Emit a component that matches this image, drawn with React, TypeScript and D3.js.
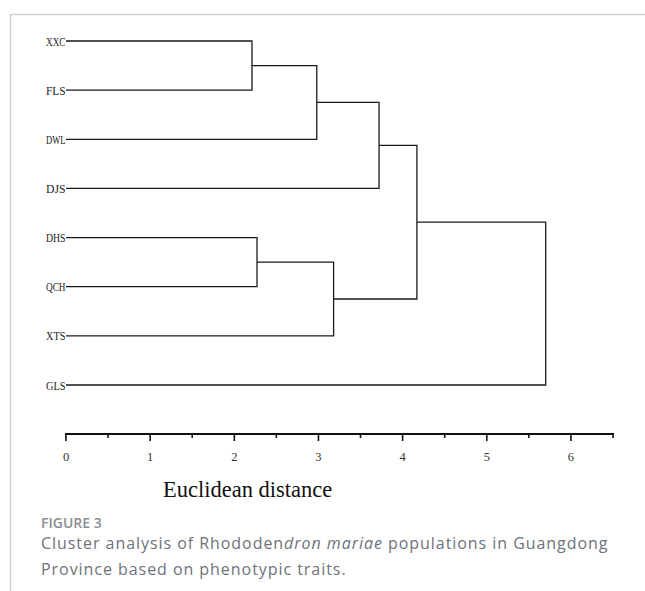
import React, { useEffect, useRef } from "react";
import * as d3 from "d3";

const leaves = ["XXC", "FLS", "DWL", "DJS", "DHS", "QCH", "XTS", "GLS"];
// each merge joins two items (leaf names or "c<index>" for earlier merges) at a distance
const mergeA = ["XXC", "c0", "c1", "DHS", "c3", "c2", "c5"];
const mergeB = ["FLS", "DWL", "DJS", "QCH", "XTS", "c4", "GLS"];
const mergeHeight = [2.21, 2.98, 3.72, 2.27, 3.18, 4.17, 5.7];
const majorTicks = [0, 1, 2, 3, 4, 5, 6];
const minorTicks = [0.5, 1.5, 2.5, 3.5, 4.5, 5.5, 6.5];
const axisTitle = "Euclidean distance";
const figLabel = "FIGURE 3";

export default function App() {
  const ref = useRef<SVGSVGElement>(null);
  useEffect(() => {
    const svg = d3.select(ref.current);
    svg.selectAll("*").remove();
    const W = 645, H = 591;
    // frame
    svg.append("line").attr("x1", 10.5).attr("x2", 10.5).attr("y1", 14).attr("y2", H).attr("stroke", "#cfcfcf").attr("stroke-width", 1.5);
    svg.append("line").attr("x1", 10).attr("x2", W).attr("y1", 14.5).attr("y2", 14.5).attr("stroke", "#cfcfcf").attr("stroke-width", 1.5);

    const x = d3.scaleLinear().domain([0, 6.5]).range([66, 613]);
    const y = d3.scalePoint<string>().domain(leaves).range([41, 385]);

    const pos: Record<string, { x: number; y: number }> = {};
    leaves.forEach((l) => (pos[l] = { x: x(0), y: y(l)! }));
    const g = svg.append("g").attr("stroke", "#1a1a1a").attr("stroke-width", 1.3).attr("fill", "none");
    mergeA.forEach((a, i) => {
      const b = mergeB[i];
      const pa = pos[a], pb = pos[b];
      const hx = x(mergeHeight[i]);
      const path = d3.path();
      path.moveTo(pa.x, pa.y);
      path.lineTo(hx, pa.y);
      path.lineTo(hx, pb.y);
      path.lineTo(pb.x, pb.y);
      g.append("path").attr("d", path.toString());
      pos["c" + i] = { x: hx, y: (pa.y + pb.y) / 2 };
    });

    // leaf labels
    svg.append("g").selectAll("text").data(leaves).join("text")
      .attr("x", x(0) - 0.5).attr("y", (d) => y(d)! + 4.5)
      .attr("text-anchor", "end")
      .attr("font-family", "Liberation Serif, serif")
      .attr("font-size", 12.5).attr("fill", "#222")
      .attr("textLength", 19.5).attr("lengthAdjust", "spacingAndGlyphs")
      .text((d) => d);

    // axis
    const axisY = 434;
    const ax = svg.append("g").attr("transform", `translate(0,${axisY})`);
    ax.append("line").attr("x1", x(0) - 1).attr("x2", x(6.5) + 1).attr("y1", 0).attr("y2", 0).attr("stroke", "#111").attr("stroke-width", 2.2);
    ax.selectAll("line.maj").data(majorTicks).join("line").attr("class", "maj")
      .attr("x1", (d) => x(d)).attr("x2", (d) => x(d)).attr("y1", 0).attr("y2", 7)
      .attr("stroke", "#111").attr("stroke-width", 1.6);
    ax.selectAll("line.min").data(minorTicks).join("line").attr("class", "min")
      .attr("x1", (d) => x(d)).attr("x2", (d) => x(d)).attr("y1", 0).attr("y2", 4)
      .attr("stroke", "#111").attr("stroke-width", 1.6);
    ax.selectAll("text").data(majorTicks).join("text")
      .attr("x", (d) => x(d)).attr("y", 26.5)
      .attr("text-anchor", "middle")
      .attr("font-family", "Liberation Serif, serif").attr("font-size", 12.5).attr("fill", "#333")
      .text((d) => String(d));

    svg.append("text").attr("x", 163).attr("y", 497)
      .attr("font-family", "Liberation Serif, serif").attr("font-size", 22.5).attr("fill", "#111")
      .text(axisTitle);

    svg.append("text").attr("x", 41).attr("y", 527.5)
      .attr("font-family", "Open Sans, sans-serif").attr("font-size", 14).attr("font-weight", 600).attr("fill", "#8a8d93")
      .text(figLabel);
    const cap = svg.append("text").attr("font-family", "Open Sans, sans-serif").attr("font-size", 16)
      .attr("letter-spacing", 0.95).attr("fill", "#6e727a");
    const l1 = cap.append("tspan").attr("x", 41).attr("y", 548.5);
    l1.append("tspan").text("Cluster analysis of Rhododen");
    l1.append("tspan").attr("font-style", "italic").text("dron mariae");
    l1.append("tspan").text(" populations in Guangdong");
    cap.append("tspan").attr("x", 41).attr("y", 575).text("Province based on phenotypic traits.");
  }, []);
  return <svg ref={ref} width={645} height={591} style={{ display: "block", position: "absolute", left: 0, top: 0, background: "#fff" }} />;
}
